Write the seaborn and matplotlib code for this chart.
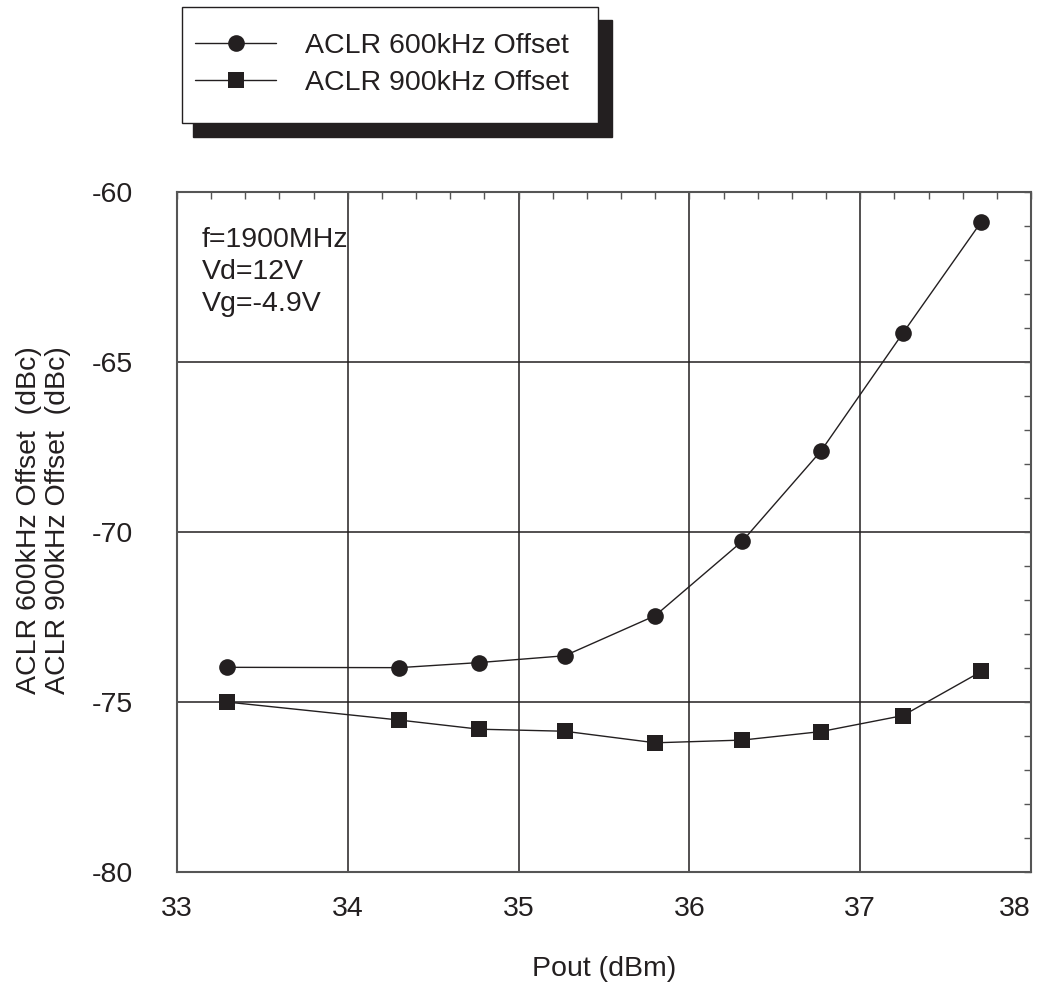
import numpy as np
import pandas as pd
import seaborn as sns
import matplotlib.pyplot as plt
from matplotlib.patches import Rectangle
from matplotlib.ticker import MultipleLocator

# data
pout = [33.29, 34.30, 34.77, 35.27, 35.80, 36.31, 36.77, 37.25, 37.71]
aclr_600 = [-73.98, -73.99, -73.84, -73.64, -72.46, -70.27, -67.62, -64.15, -60.87]
aclr_900 = [-75.00, -75.53, -75.80, -75.86, -76.20, -76.12, -75.87, -75.40, -74.10]
series_names = ['ACLR 600kHz Offset', 'ACLR 900kHz Offset']
notes = ['f=1900MHz', 'Vd=12V', 'Vg=-4.9V']

dark = '#231f20'
W, H = 1037, 992
fs = 20.5

sns.set_theme(style='white')
plt.rcParams['font.family'] = ['Liberation Sans', 'DejaVu Sans']
plt.rcParams['axes.unicode_minus'] = False

fig = plt.figure(figsize=(W / 100, H / 100), dpi=100)
ax = fig.add_axes([177 / W, 1 - 872 / H, 854 / W, 680 / H])

df = pd.DataFrame({'pout': pout, 'a600': aclr_600, 'a900': aclr_900})
sns.lineplot(data=df, x='pout', y='a600', ax=ax, color=dark, lw=1, marker='o',
             markersize=12, markeredgecolor=dark, markeredgewidth=0,
             label=series_names[0], legend=False)
sns.lineplot(data=df, x='pout', y='a900', ax=ax, color=dark, lw=1, marker='s',
             markersize=12, markeredgecolor=dark, markeredgewidth=0,
             label=series_names[1], legend=False)

ax.set_xlim(33, 38)
ax.set_ylim(-80, -60)
ax.xaxis.set_major_locator(MultipleLocator(1))
ax.xaxis.set_minor_locator(MultipleLocator(0.2))
ax.yaxis.set_major_locator(MultipleLocator(5))
ax.yaxis.set_minor_locator(MultipleLocator(1))
ax.grid(which='major', color=dark, lw=1.1)
ax.set_axisbelow(True)
for s in ax.spines.values():
    s.set_color('#555555')
    s.set_linewidth(1.5)
ax.tick_params(which='both', direction='in', top=True, right=True,
               length=5, width=1, color='#555555', labelsize=fs, labelcolor=dark)
ax.tick_params(axis='x', pad=17)
ax.tick_params(axis='y', pad=32)

ax.set_xlabel('Pout (dBm)', fontsize=fs, color=dark)
ax.xaxis.set_label_coords(0.5, -0.124)
ax.set_ylabel('ACLR 600kHz Offset  (dBc)\nACLR 900kHz Offset  (dBc)',
              fontsize=fs, color=dark, linespacing=1.15)
ax.yaxis.set_label_coords(-0.124, 0.518)

for i, t in enumerate(notes):
    ax.text(0.029, 0.930 - i * 0.047, t, transform=ax.transAxes,
            fontsize=fs, color=dark, va='center', ha='left')

# legend box with solid drop shadow
fig.patches.append(Rectangle((193.3 / W, 1 - 136.7 / H), 418.4 / W, 116.7 / H,
                             transform=fig.transFigure, facecolor=dark,
                             edgecolor=dark, zorder=1))
fig.patches.append(Rectangle((181.7 / W, 1 - 122.7 / H), 416.6 / W, 115.4 / H,
                             transform=fig.transFigure, facecolor='white',
                             edgecolor=dark, lw=1, zorder=2))
handles, labels = ax.get_legend_handles_labels()
fig.legend(handles, labels, loc='upper left', bbox_to_anchor=(195 / W, 1 - 33 / H),
           frameon=False, fontsize=fs, borderpad=0, borderaxespad=0,
           handlelength=2.85, handletextpad=1.0, labelspacing=0.4,
           labelcolor=dark)

# last x label pulled inside the figure, as in the reference
fig.canvas.draw()
for tick in ax.xaxis.get_major_ticks():
    if abs(tick.get_loc() - 38) < 1e-6:
        tick.label1.set_horizontalalignment('right')

fig.savefig('out.png', dpi=100)
